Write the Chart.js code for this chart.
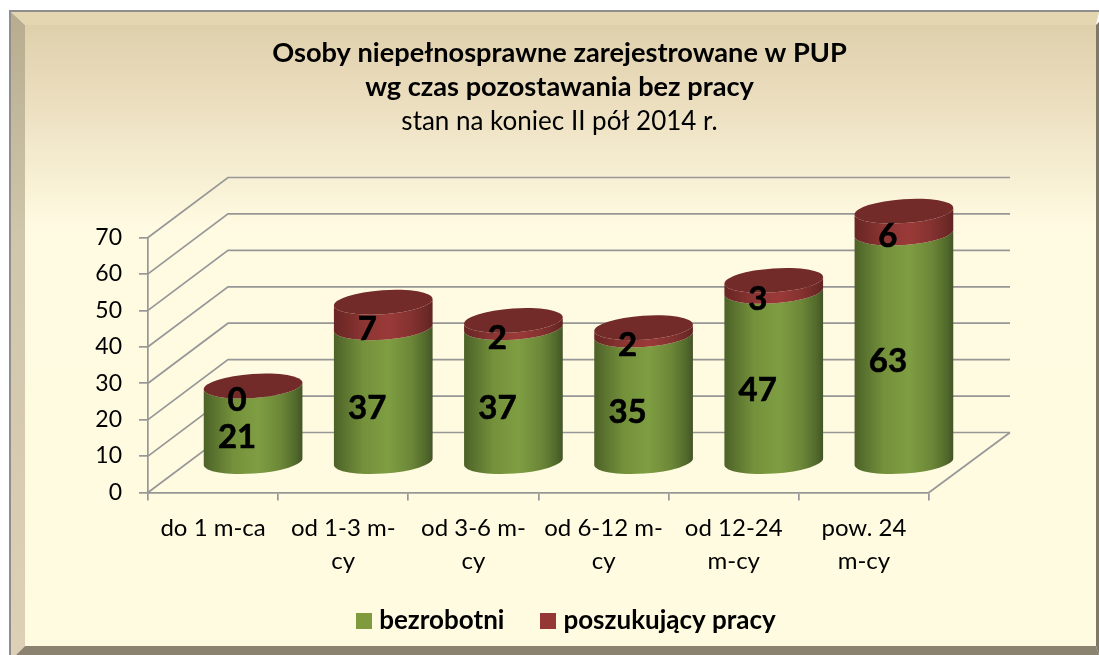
<!DOCTYPE html>
<html><head><meta charset="utf-8">
<style>html,body{margin:0;padding:0;background:#fff}canvas{display:block}</style>
<script src="https://cdn.jsdelivr.net/npm/chart.js@4"></script>
</head><body><canvas id="c" width="1099" height="655"></canvas>
<script>
const categories = [["do 1 m-ca"],["od 1-3 m-","cy"],["od 3-6 m-","cy"],["od 6-12 m-","cy"],["od 12-24","m-cy"],["pow. 24","m-cy"]];
const bezrobotni = [21,37,37,35,47,63];
const poszukujacy = [0,7,2,2,3,6];
const titleLines = ["Osoby niepełnosprawne zarejestrowane w PUP","wg czas pozostawania bez pracy"];
const subtitleText = "stan na koniec II pół 2014 r.";
const FONT = "Lato, Carlito, sans-serif";
const LINE = "#979797";
const DEPTH_X = 80, DEPTH_Y = 60;
const greenStops = [[0,"#4c6127"],[0.12,"#5c7530"],[0.3,"#74913b"],[0.55,"#7f9e42"],[0.78,"#6c8738"],[0.93,"#526a2b"],[1,"#435428"]];
const redStops = [[0,"#682624"],[0.12,"#752b29"],[0.3,"#8b3533"],[0.55,"#9a3a38"],[0.78,"#843230"],[0.93,"#6e2927"],[1,"#5f2422"]];
const topRed = "#722b29";

function swatch(color){const s=document.createElement('canvas');s.width=16;s.height=16;const g=s.getContext('2d');g.fillStyle=color;g.fillRect(0,0,16,16);return s;}

const framePlugin = {id:'frame',beforeDraw(chart){
  const c=chart.ctx,W=1099,H=655;c.save();
  c.fillStyle="#fff";c.fillRect(0,0,W,H);
  const g=c.createLinearGradient(0,25,0,646);
  g.addColorStop(0,"#dfd0ac");g.addColorStop(0.13,"#ecdfc0");g.addColorStop(0.33,"#fffbe2");g.addColorStop(1,"#fffbe0");
  c.fillStyle=g;c.fillRect(25,25,1071,621);
  c.fillStyle="#e4d6b0";c.beginPath();c.moveTo(11,12);c.lineTo(1099,12);c.lineTo(1096,25);c.lineTo(25,25);c.closePath();c.fill();
  const l=c.createLinearGradient(0,12,0,650);
  l.addColorStop(0,"#b7ac8e");l.addColorStop(0.35,"#cfc6ab");l.addColorStop(1,"#ddd0b6");
  c.fillStyle=l;c.beginPath();c.moveTo(11,12);c.lineTo(25,25);c.lineTo(25,646);c.lineTo(16,655);c.lineTo(11,655);c.closePath();c.fill();
  c.fillStyle="#7f7866";c.beginPath();c.moveTo(1099,22);c.lineTo(1096,25);c.lineTo(1096,646);c.lineTo(1099,655);c.closePath();c.fill();
  c.fillStyle="#8b8270";c.beginPath();c.moveTo(25,646);c.lineTo(1096,646);c.lineTo(1099,655);c.lineTo(16,655);c.closePath();c.fill();
  c.fillStyle="#8e8e8e";c.fillRect(9,10,1090,2);c.fillRect(9,10,2,645);
  c.restore();
}};

function gradient(c,x0,x1,stops){const g=c.createLinearGradient(x0,0,x1,0);stops.forEach(s=>g.addColorStop(s[0],s[1]));return g;}

const LEGEND_SHIFT=9, LEGEND_TOP=567;
const cylinderPlugin = {id:'cylinders',
  afterLayout(chart){
    chart.boxes.forEach(b=>{ if(!b.axis && b!==chart.legend){b.left=20;b.right=1099;} });
    const lg=chart.legend; if(lg){lg.left=20+LEGEND_SHIFT;lg.right=1099+LEGEND_SHIFT;lg.top=LEGEND_TOP;}
  },
  beforeDatasetsDraw(chart){
    const c=chart.ctx,y=chart.scales.y,a=chart.chartArea;
    c.save();c.strokeStyle=LINE;c.lineWidth=1.7;
    y.ticks.forEach(t=>{const p=y.getPixelForValue(t.value);
      c.beginPath();c.moveTo(a.left,p);c.lineTo(a.left+DEPTH_X,p-DEPTH_Y);c.lineTo(a.right+DEPTH_X+1,p-DEPTH_Y);c.stroke();});
    const p0=y.getPixelForValue(0);
    c.beginPath();c.moveTo(a.right,p0);c.lineTo(a.right+DEPTH_X+1,p0-DEPTH_Y);c.stroke();
    const m0=chart.getDatasetMeta(0).data,m1=chart.getDatasetMeta(1).data;
    const rot=-4*Math.PI/180,ry=12;
    const ox=DEPTH_X/2,oy=-DEPTH_Y/2;
    const cyl=(e,stops)=>{
      const cx=e.x+ox,rx=e.width/2,t=e.y+oy,b=e.base+oy;
      c.beginPath();c.ellipse(cx,b,rx,ry,rot,0,Math.PI);c.ellipse(cx,t,rx,ry,rot,Math.PI,0,true);c.closePath();
      c.fillStyle=gradient(c,cx-rx,cx+rx,stops);c.fill();
    };
    m0.forEach((e,i)=>{
      cyl(e,greenStops);
      const r=m1[i];
      if(r.base-r.y>0.01)cyl(r,redStops);
      c.beginPath();c.ellipse(r.x+ox,r.y+oy,r.width/2,ry,rot,0,2*Math.PI);c.fillStyle=topRed;c.fill();
    });
    c.fillStyle="#000";c.strokeStyle="#000";c.lineWidth=0.6;c.font="bold 33px "+FONT;c.textAlign="center";c.textBaseline="middle";
    [[m0,bezrobotni],[m1,poszukujacy]].forEach(([m,vals])=>m.forEach((e,i)=>{
      const tx=e.x+24,ty=(e.y+e.base)/2-16;
      c.fillText(String(vals[i]),tx,ty);c.strokeText(String(vals[i]),tx,ty);
    }));
    c.restore();
    return false;
  }};

new Chart(document.getElementById('c'),{
  type:'bar',
  data:{labels:categories,datasets:[
    {label:"bezrobotni",data:bezrobotni,backgroundColor:"#7f9b3e",stack:'s',barPercentage:0.76,categoryPercentage:1},
    {label:"poszukujący pracy",data:poszukujacy,backgroundColor:"#953735",stack:'s',barPercentage:0.76,categoryPercentage:1}
  ]},
  plugins:[framePlugin,cylinderPlugin],
  options:{
    responsive:false,animation:false,devicePixelRatio:1,
    layout:{padding:{left:0,right:170,top:0,bottom:0}},
    plugins:{
      tooltip:{enabled:false},
      title:{display:true,text:titleLines,color:"#000",font:{family:FONT,size:27.2,weight:'bold',lineHeight:34/27.2},padding:{top:36,bottom:3}},
      subtitle:{display:true,text:subtitleText,color:"#000",font:{family:FONT,size:26,weight:'normal',lineHeight:30/26},padding:{top:0,bottom:100.5}},
      legend:{position:'bottom',labels:{color:"#000",font:{family:FONT,size:26,weight:'bold'},usePointStyle:true,pointStyleWidth:5,padding:41,
        generateLabels(chart){return Chart.defaults.plugins.legend.labels.generateLabels(chart).map(l=>{l.pointStyle=swatch(l.fillStyle);return l;});}}}
    },
    scales:{
      x:{stacked:true,afterFit(s){s.height=85.5;},
        grid:{drawOnChartArea:false,drawTicks:true,tickLength:8,color:LINE,lineWidth:1.7},
        border:{color:LINE,width:1.7},
        ticks:{color:"#000",font:{family:FONT,size:24,lineHeight:33/24},padding:11,maxRotation:0,minRotation:0,autoSkip:false}},
      y:{stacked:true,min:0,max:70,afterFit(s){s.width=148;},
        grid:{drawOnChartArea:false,drawTicks:true,tickLength:9,color:LINE,lineWidth:1.7},
        border:{color:LINE,width:1.7},
        ticks:{color:"#000",font:{family:FONT,size:23},stepSize:10,padding:17}}
    }
  }
});
</script></body></html>
